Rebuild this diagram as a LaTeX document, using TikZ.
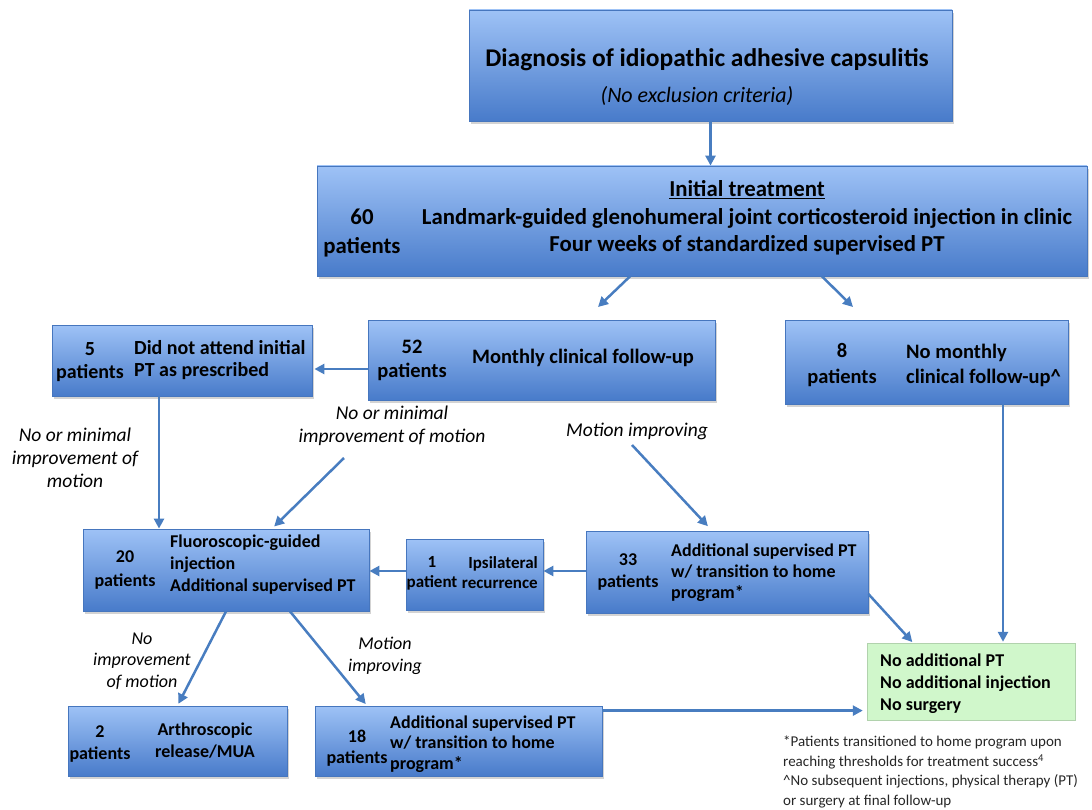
\documentclass[tikz,border=0pt]{standalone}
\usepackage{fontspec}
\setmainfont{Carlito}
\usetikzlibrary{arrows.meta,shadows}
\definecolor{boxtop}{RGB}{158,194,246}
\definecolor{boxbot}{RGB}{72,123,202}
\definecolor{boxline}{RGB}{70,118,190}
\definecolor{arrowc}{RGB}{72,125,192}
\definecolor{greenf}{RGB}{208,247,203}
\newcommand\fsz[2]{\fontsize{#1}{#2}\selectfont}
\begin{document}
\begin{tikzpicture}[x=1pt,y=-1pt,
  box/.style={draw=boxline, line width=0.8pt, top color=boxtop, bottom color=boxbot, inner sep=0pt,
    drop shadow={shadow xshift=1.5pt, shadow yshift=-3pt, opacity=0.35}},
  gbox/.style={fill=greenf, draw=greenf!85!black, line width=0.4pt, inner sep=0pt},
  txt/.style={inner sep=0pt, align=center, text=black},
  arr/.style={draw=arrowc, line width=2.5pt, -{Triangle[length=10pt,width=10pt]}},
  lab/.style={txt, font=\fsz{19.5}{23}\itshape},
  labs/.style={txt, font=\fsz{18}{21.5}\itshape}
]
\useasboundingbox (0,0) rectangle (1092,810);

% boxes
\node[box, minimum width=483pt, minimum height=111pt] (b1) at (710.5,65.5) {};
\node[box, minimum width=770pt, minimum height=110pt] (b2) at (702,221) {};
\node[box, minimum width=347pt, minimum height=80pt] (b52) at (541.5,360) {};
\node[box, minimum width=260pt, minimum height=71pt] (b5) at (182,360.5) {};
\node[box, minimum width=283pt, minimum height=84pt] (b8) at (926.5,362) {};
\node[box, minimum width=286pt, minimum height=82pt] (b20) at (226,570) {};
\node[box, minimum width=137pt, minimum height=71pt] (b1p) at (474.5,574.5) {};
\node[box, minimum width=282pt, minimum height=82pt] (b33) at (727,572) {};
\node[box, minimum width=219pt, minimum height=70pt] (b2p) at (177.5,741) {};
\node[box, minimum width=287pt, minimum height=70pt] (b18) at (458.5,741) {};
\node[gbox, minimum width=208pt, minimum height=77pt] (grn) at (971,681.5) {};

% box texts
\node[txt, font=\fsz{25.5}{30}\bfseries] (t1a) at (707,60) {Diagnosis of idiopathic adhesive capsulitis};
\node[txt, font=\fsz{22}{26}\itshape] (t1b) at (697,96) {(No exclusion criteria)};

\node[txt, font=\fsz{22.8}{29}\bfseries] (t2a) at (362,233) {60\\patients};
\node[txt, font=\fsz{22.8}{27.5}\bfseries] (t2b) at (747,218) {\underline{Initial treatment}\\Landmark-guided glenohumeral joint corticosteroid injection in clinic\\Four weeks of standardized supervised PT};

\node[txt, font=\fsz{20.5}{24}\bfseries] (t52a) at (412,360) {52\\patients};
\node[txt, font=\fsz{20.5}{24}\bfseries] (t52b) at (583,358) {Monthly clinical follow-up};

\node[txt, font=\fsz{20}{23}\bfseries] (t5a) at (90,362.5) {5\\patients};
\node[txt, font=\fsz{20}{22}\bfseries, anchor=west, align=left] (t5b) at (134,360) {Did not attend initial\\PT as prescribed};

\node[txt, font=\fsz{20.5}{26}\bfseries] (t8a) at (842,365) {8\\patients};
\node[txt, font=\fsz{20.5}{25}\bfseries, anchor=west, align=left] (t8b) at (906,365) {No monthly\\clinical follow-up\textasciicircum};

\node[txt, font=\fsz{18}{24}\bfseries] (t20a) at (125,570) {20\\patients};
\node[txt, font=\fsz{18}{22}\bfseries, anchor=west, align=left] (t20b) at (170,565) {Fluoroscopic-guided\\injection\\Additional supervised PT};

\node[txt, font=\fsz{17}{20}\bfseries] (t1pa) at (432,573) {1\\patient};
\node[txt, font=\fsz{17}{20}\bfseries, anchor=east, align=right] (t1pb) at (538,573) {Ipsilateral\\recurrence};

\node[txt, font=\fsz{18}{22}\bfseries] (t33a) at (628,572) {33\\patients};
\node[txt, font=\fsz{18}{21}\bfseries, anchor=west, align=left] (t33b) at (671,573) {Additional supervised PT\\w/ transition to home\\program*};

\node[txt, font=\fsz{18}{22}\bfseries] (t2pa) at (100,744) {2\\patients};
\node[txt, font=\fsz{18}{22}\bfseries] (t2pb) at (205,741) {Arthroscopic\\release/MUA};

\node[txt, font=\fsz{18}{21}\bfseries] (t18a) at (357,748) {18\\patients};
\node[txt, font=\fsz{18}{20.5}\bfseries, anchor=west, align=left] (t18b) at (390,744) {Additional supervised PT\\w/ transition to home\\program*};

\node[txt, font=\fsz{18}{22}\bfseries, anchor=west, align=left] (tg) at (880,684) {No additional PT\\No additional injection\\No surgery};

% labels
\node[lab] (l1) at (75,458) {No or minimal\\improvement of\\motion};
\node[lab] (l2) at (392,426) {No or minimal\\improvement of motion};
\node[lab] (l3) at (637,431) {Motion improving};
\node[labs] (l4) at (142,661) {No\\improvement\\of motion};
\node[labs] (l5) at (385,656) {Motion\\improving};

\node[txt, font=\fsz{15}{19.5}, anchor=north west, align=left, text=black!85] (fn) at (783,736)
  {*Patients transitioned to home program upon\\reaching thresholds for treatment success\textsuperscript{4}\\\textasciicircum No subsequent injections, physical therapy (PT)\\or surgery at final follow-up};

% free ends
\coordinate (a52) at (598,307);
\coordinate (a8) at (853,307);
\coordinate (s1) at (344,458);
\coordinate (s2) at (632,445);

% connectors
\draw[arr] (b1.south) -- (b1.south |- b2.north);
\draw[arr] ([xshift=-72pt]b2.south) -- (a52);
\draw[arr] ([xshift=120pt]b2.south) -- (a8);
\draw[arr, shorten >=2pt] ([yshift=-9pt]b52.west) -- ([yshift=-9pt]b52.west -| b5.east);
\draw[arr] ([xshift=-23pt]b5.south) -- ([xshift=-23pt]b5.south |- b20.north);
\draw[arr, shorten >=3pt] (s1) -- ([xshift=46pt]b20.north);
\draw[arr, shorten >=6pt] (s2) -- ([xshift=-15pt]b33.north);
\draw[arr] (b33.west |- 0,571) -- (b1p.east |- 0,571);
\draw[arr] (b1p.west |- 0,571) -- (b20.east |- 0,571);
\draw[arr, shorten >=2pt] (b20.south) -- (b2p.north);
\draw[arr, shorten >=2pt] ([xshift=64pt]b20.south) -- ([xshift=-91.5pt]b18.north);
\draw[arr, shorten >=1pt] ([yshift=-22pt]b33.east) -- ([xshift=-58pt]grn.north);
\draw[arr, shorten >=1pt] ([xshift=76.5pt]b8.south) -- ([xshift=76.5pt]b8.south |- grn.north);
\draw[arr, shorten >=4pt] ([yshift=-5pt]b18.north east) -- ([yshift=-5pt]b18.north east -| grn.west);
\end{tikzpicture}
\end{document}
